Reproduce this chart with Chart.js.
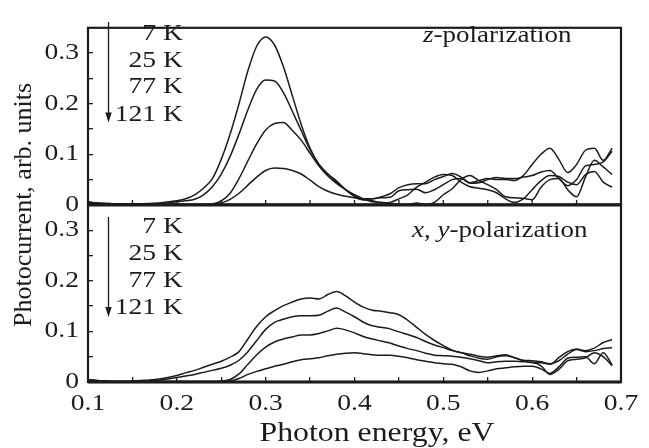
<!DOCTYPE html>
<html>
<head>
<meta charset="utf-8">
<script src="https://cdn.jsdelivr.net/npm/chart.js@4.4.1/dist/chart.umd.min.js"></script>
<style>
html,body{margin:0;padding:0;background:#fff;}
#wrap{width:649px;height:448px;}
canvas{display:block;}
</style>
</head>
<body>
<div id="wrap"><canvas id="c" width="649" height="448"></canvas></div>
<script>
// ---- data ----
const energy = [0.10,0.11,0.12,0.13,0.14,0.15,0.16,0.17,0.18,0.19,
                0.20,0.21,0.22,0.23,0.24,0.25,0.26,0.27,0.28,0.29,
                0.30,0.31,0.32,0.33,0.34,0.35,0.36,0.37,0.38,0.39,
                0.40,0.41,0.42,0.43,0.44,0.45,0.46,0.47,0.48,0.49,
                0.50,0.51,0.52,0.53,0.54,0.55,0.56,0.57,0.58,0.59,
                0.60,0.61,0.62,0.63,0.64,0.65,0.66,0.67,0.68,0.69];

const temperatures = ['7 K','25 K','77 K','121 K'];

// z-polarization
const z7K = [0.006,0.004,0.003,0.002,0.002,0.002,0.002,0.003,0.004,0.006,
             0.008,0.012,0.020,0.033,0.052,0.090,0.140,0.200,0.265,0.314,
             0.332,0.316,0.273,0.216,0.159,0.112,0.080,0.061,0.047,0.030,
             0.017,0.012,0.012,0.016,0.022,0.034,0.040,0.042,0.042,0.050,
             0.056,0.062,0.055,0.044,0.048,0.052,0.050,0.050,0.048,0.058,
             0.080,0.100,0.112,0.090,0.064,0.080,0.108,0.112,0.088,0.112];
const z25K = [0.005,0.004,0.003,0.002,0.002,0.002,0.002,0.002,0.003,0.004,
              0.006,0.008,0.011,0.020,0.036,0.061,0.096,0.140,0.188,0.229,
              0.247,0.245,0.222,0.185,0.147,0.109,0.080,0.061,0.045,0.030,
              0.017,0.010,0.012,0.014,0.015,0.028,0.030,0.031,0.024,0.030,
              0.040,0.050,0.052,0.043,0.044,0.050,0.054,0.052,0.052,0.055,
              0.058,0.065,0.068,0.052,0.038,0.050,0.077,0.080,0.085,0.106];
const z77K = [0.004,0.003,0.002,0.001,0.001,0.001,0.001,0.001,0.001,0.001,
              0.001,0.001,0.001,0.001,0.002,0.008,0.023,0.052,0.087,0.121,
              0.148,0.161,0.163,0.147,0.128,0.102,0.077,0.057,0.042,0.030,
              0.020,0.012,0.006,0.005,0.003,0.001,0.001,0.004,0.001,0.005,
              0.020,0.032,0.050,0.058,0.048,0.040,0.030,0.016,0.014,0.013,
              0.010,0.035,0.050,0.052,0.030,0.016,0.055,0.088,0.075,0.060];
const z121K = [0.004,0.003,0.002,0.001,0.001,0.001,0.001,0.001,0.001,0.001,
               0.001,0.001,0.001,0.001,0.001,0.004,0.011,0.023,0.039,0.055,
               0.068,0.073,0.072,0.068,0.061,0.049,0.036,0.027,0.021,0.017,
               0.014,0.010,0.008,0.004,0.005,0.012,0.020,0.035,0.045,0.055,
               0.060,0.058,0.045,0.036,0.033,0.030,0.024,0.012,0.005,0.012,
               0.030,0.048,0.058,0.056,0.045,0.040,0.060,0.066,0.045,0.035];

// x,y-polarization
const xy7K = [0.005,0.003,0.002,0.001,0.001,0.002,0.003,0.004,0.006,0.009,
              0.013,0.018,0.023,0.029,0.035,0.041,0.049,0.060,0.085,0.110,
              0.129,0.141,0.151,0.158,0.164,0.166,0.164,0.173,0.179,0.170,
              0.158,0.148,0.142,0.140,0.137,0.133,0.122,0.108,0.094,0.082,
              0.072,0.063,0.058,0.052,0.047,0.045,0.050,0.052,0.048,0.042,
              0.038,0.038,0.035,0.048,0.060,0.065,0.062,0.067,0.078,0.084];
const xy25K = [0.005,0.003,0.002,0.001,0.001,0.001,0.002,0.003,0.004,0.006,
               0.009,0.012,0.015,0.019,0.023,0.027,0.033,0.043,0.060,0.082,
               0.104,0.118,0.124,0.129,0.131,0.131,0.132,0.140,0.146,0.138,
               0.129,0.118,0.111,0.108,0.105,0.099,0.094,0.088,0.080,0.073,
               0.068,0.062,0.058,0.055,0.051,0.049,0.052,0.054,0.048,0.043,
               0.042,0.040,0.036,0.042,0.055,0.064,0.060,0.062,0.066,0.068];
const xy77K = [0.004,0.002,0.001,0.001,0.001,0.001,0.001,0.001,0.001,0.001,
               0.001,0.001,0.001,0.001,0.001,0.002,0.005,0.016,0.035,0.054,
               0.069,0.079,0.085,0.089,0.093,0.093,0.096,0.101,0.106,0.103,
               0.097,0.090,0.085,0.081,0.077,0.071,0.066,0.062,0.057,0.053,
               0.052,0.051,0.049,0.046,0.042,0.038,0.040,0.041,0.041,0.040,
               0.039,0.032,0.015,0.025,0.042,0.045,0.048,0.058,0.050,0.032];
const xy121K = [0.004,0.002,0.001,0.001,0.001,0.001,0.001,0.001,0.001,0.001,
                0.001,0.001,0.001,0.001,0.001,0.001,0.002,0.007,0.015,0.021,
                0.026,0.031,0.035,0.040,0.044,0.046,0.048,0.052,0.055,0.057,
                0.058,0.056,0.054,0.053,0.053,0.051,0.048,0.044,0.041,0.038,
                0.036,0.035,0.030,0.022,0.019,0.022,0.026,0.028,0.030,0.031,
                0.031,0.026,0.017,0.030,0.047,0.049,0.050,0.036,0.058,0.034];

const xTickLabels = ['0.1','0.2','0.3','0.4','0.5','0.6','0.7'];
const yTickLabels = ['0','0.1','0.2','0.3'];
const xTitle = 'Photon energy, eV';
const yTitle = 'Photocurrent, arb. units';

// ---- styling ----
const INK = '#1c1c1c';
const SERIF = '"Liberation Serif"';
const SX = 1.2; // horizontal stretch of the figure's lettering

function pts(arr){ return energy.map((e,i)=>({x:e, y:arr[i]})); }
function ds(label, arr, axis){
  return {label, data: pts(arr), yAxisID: axis, borderColor: INK, borderWidth: 1.5,
          pointRadius: 0, fill: false, cubicInterpolationMode: 'monotone'};
}
function isTenth(v){ return Math.abs(v*10 - Math.round(v*10)) < 1e-6; }
function fmtY(v){
  if (!isTenth(v)) return '';
  const s = Math.abs(v) < 1e-9 ? '0' : v.toFixed(1);
  return yTickLabels.includes(s) ? s : '';
}
function fmtX(v){
  if (!isTenth(v)) return '';
  const s = v.toFixed(1);
  return xTickLabels.includes(s) ? s : '';
}

function yScale(){
  return {
    type: 'linear', position: 'left', stack: 'panels', stackWeight: 1,
    min: 0, max: 0.35,
    ticks: {stepSize: 0.05, autoSkip: false, padding: 14, color: INK,
            font: {family: SERIF, size: 23}, callback: fmtY},
    grid: {drawOnChartArea: false, drawTicks: true, tickLength: -5, color: INK, lineWidth: 1.3},
    border: {display: false},
    afterFit: s => { s.width = 88; }
  };
}

function stretchText(ctx, parts, x, y, align, size){
  ctx.save();
  ctx.translate(x, y);
  ctx.scale(SX, 1);
  ctx.textAlign = 'left';
  ctx.textBaseline = 'alphabetic';
  const widths = parts.map(p => { ctx.font = (p.it ? 'italic ' : '') + size + 'px ' + SERIF; return ctx.measureText(p.t).width; });
  const total = widths.reduce((a,b)=>a+b,0);
  let cx = align === 'right' ? -total : (align === 'center' ? -total/2 : 0);
  parts.forEach((p,i) => {
    ctx.font = (p.it ? 'italic ' : '') + size + 'px ' + SERIF;
    ctx.fillText(p.t, cx, 0);
    cx += widths[i];
  });
  ctx.restore();
}

function arrow(ctx, x, y1, y2){
  ctx.beginPath();
  ctx.moveTo(x, y1); ctx.lineTo(x, y2 - 6);
  ctx.lineWidth = 1.3; ctx.stroke();
  ctx.beginPath();
  ctx.moveTo(x - 3.2, y2 - 10); ctx.lineTo(x + 3.2, y2 - 10); ctx.lineTo(x, y2); ctx.closePath();
  ctx.fill();
}

// the figure's lettering is horizontally widened; apply the same widening to axis text
const widenAxisText = {
  id: 'widenAxisText',
  beforeDraw(chart){
    const ctx = chart.ctx;
    const proto = Object.getPrototypeOf(ctx).fillText;
    ctx.fillText = function(t, x, y, w){
      this.save();
      this.translate(x, y);
      this.scale(SX, 1);
      if (w == null) proto.call(this, t, 0, 0); else proto.call(this, t, 0, 0, w / SX);
      this.restore();
    };
  },
  beforeDatasetsDraw(chart){ delete chart.ctx.fillText; },
  afterDraw(chart){ delete chart.ctx.fillText; }
};

const decor = {
  id: 'decor',
  afterDraw(chart){
    const {ctx, scales} = chart;
    const x = scales.x;
    const panels = [scales.yTop, scales.yBot].sort((a,b)=>a.top-b.top);
    const top = panels[0], bot = panels[1];
    ctx.save();
    ctx.strokeStyle = INK; ctx.fillStyle = INK;
    panels.forEach(p => {
      ctx.lineWidth = 2.2;
      ctx.strokeRect(x.left, p.top, x.right - x.left, p.bottom - p.top);
    });
    ctx.lineWidth = 3.4;
    ctx.beginPath(); ctx.moveTo(x.left, top.bottom); ctx.lineTo(x.right, top.bottom); ctx.stroke();
    ctx.lineWidth = 2.8;
    ctx.beginPath(); ctx.moveTo(x.left, bot.bottom); ctx.lineTo(x.right, bot.bottom); ctx.stroke();
    ctx.lineWidth = 1.3;
    x.ticks.forEach(t => {
      const px = x.getPixelForValue(t.value);
      ctx.beginPath(); ctx.moveTo(px, top.bottom); ctx.lineTo(px, top.bottom - 5); ctx.stroke();
    });
    // axis titles
    ctx.save();
    ctx.translate(31, (chart.chartArea.top + chart.chartArea.bottom) / 2);
    ctx.rotate(-Math.PI / 2);
    ctx.font = '26px ' + SERIF; ctx.textAlign = 'center'; ctx.textBaseline = 'alphabetic';
    ctx.fillText(yTitle, 0, 0);
    ctx.restore();
    stretchText(ctx, [{t: xTitle}], 377, 441, 'center', 26.5);
    // temperature lists and arrows
    const tBase = [[40, 66.5, 93, 120.5], [233, 260, 287, 314]];
    const aY = [[22, 122.5], [217, 317]];
    [top, bot].forEach((p, k) => {
      temperatures.forEach((t, i) => stretchText(ctx, [{t}], 183, tBase[k][i], 'right', 23));
      arrow(ctx, 108.5, aY[k][0], aY[k][1]);
    });
    stretchText(ctx, [{t:'z', it:true}, {t:'-polarization'}], 423, 42, 'left', 22.5);
    stretchText(ctx, [{t:'x', it:true}, {t:', '}, {t:'y', it:true}, {t:'-polarization'}], 412, 237, 'left', 22.5);
    ctx.restore();
  }
};

function draw(){
  new Chart(document.getElementById('c'), {
    type: 'line',
    data: {
      datasets: [
        ds('z ' + temperatures[0], z7K, 'yTop'),
        ds('z ' + temperatures[1], z25K, 'yTop'),
        ds('z ' + temperatures[2], z77K, 'yTop'),
        ds('z ' + temperatures[3], z121K, 'yTop'),
        ds('x,y ' + temperatures[0], xy7K, 'yBot'),
        ds('x,y ' + temperatures[1], xy25K, 'yBot'),
        ds('x,y ' + temperatures[2], xy77K, 'yBot'),
        ds('x,y ' + temperatures[3], xy121K, 'yBot')
      ]
    },
    options: {
      responsive: false,
      animation: false,
      devicePixelRatio: 1,
      layout: {padding: {top: 8, right: 28, left: 0, bottom: 0}},
      plugins: {legend: {display: false}, tooltip: {enabled: false}},
      scales: {
        x: {
          type: 'linear', position: 'bottom', min: 0.1, max: 0.7,
          ticks: {stepSize: 0.05, autoSkip: false, maxRotation: 0, padding: 13, color: INK,
                  font: {family: SERIF, size: 23}, callback: fmtX},
          grid: {drawOnChartArea: false, drawTicks: true, tickLength: -5, color: INK, lineWidth: 1.3},
          border: {display: false},
          title: {display: false, text: xTitle},
          afterFit: s => { s.height = 66; }
        },
        yBot: yScale(),
        yTop: yScale()
      }
    },
    plugins: [widenAxisText, decor]
  });
}

const fontLoads = ['23px "Liberation Serif"', 'italic 23px "Liberation Serif"', '26px "Liberation Serif"']
  .map(f => document.fonts.load(f));
Promise.all(fontLoads).then(draw, draw);
</script>
</body>
</html>
